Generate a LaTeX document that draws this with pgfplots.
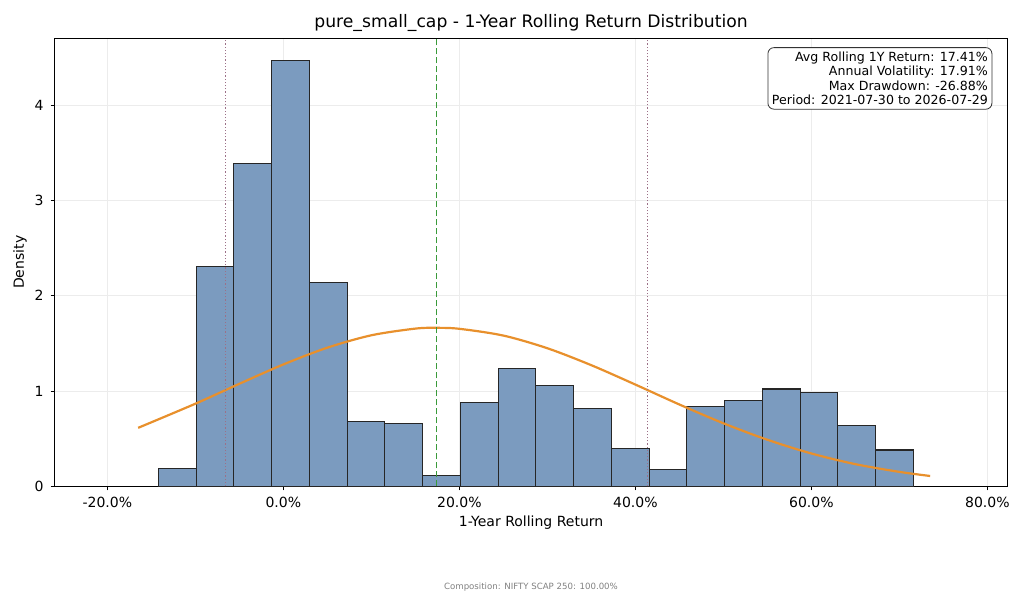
\documentclass[border=0pt]{standalone}
\usepackage{pgfplots}
\pgfplotsset{compat=1.18}
\usepackage{fontspec}
\setmainfont{DejaVu Sans}
\definecolor{barc}{HTML}{7B9BBF}
\definecolor{curvec}{HTML}{E8902C}
\definecolor{meanc}{HTML}{3A9A3A}
\definecolor{sdc}{HTML}{9C7088}
\begin{document}
\begin{tikzpicture}[x=0.5pt,y=0.5pt]
\useasboundingbox (0,0) rectangle (1024,614);
\begin{axis}[at={(62,134)},anchor=south west,scale only axis,
 width=476.5pt,height=224pt,
 xmin=-26,xmax=82.3,ymin=0,ymax=4.70,
 xtick={-20,0,20,40,60,80},
 xticklabels={-20.0\%,0.0\%,20.0\%,40.0\%,60.0\%,80.0\%},
 ytick={0,1,2,3,4},
 /pgf/number format/assume math mode=true,
 tick label style={font=\fontsize{7}{8}\selectfont},
 label style={font=\fontsize{7}{8}\selectfont},
 xlabel={1-Year Rolling Return}, ylabel={Density},
 xlabel style={yshift=3pt}, ylabel style={yshift=-3pt},
 title={pure\_small\_cap - 1-Year Rolling Return Distribution},
 title style={font=\fontsize{8.6}{9}\selectfont,yshift=-6pt},
 grid=major, grid style={gray!15,line width=0.3pt},
 tick align=outside, tick style={black,line width=0.4pt},
 xtick pos=bottom, ytick pos=left, major tick length=2pt,
 axis line style={line width=0.4pt}]
\addplot[ybar interval,fill=barc,draw=black!85,line width=0.55pt] coordinates {
(-14.20,0.19)(-9.91,2.31)(-5.62,3.39)(-1.33,4.47)(2.96,2.14)(7.25,0.68)(11.54,0.66)(15.83,0.11)(20.12,0.88)(24.41,1.24)(28.70,1.06)(32.99,0.82)(37.28,0.40)(41.57,0.18)(45.86,0.84)(50.15,0.90)(54.44,1.02)(58.73,0.98)(63.02,0.64)(67.31,0.38)(71.60,0.38)};
\addplot[curvec,line width=1.1pt,smooth] coordinates {
(-16.5,0.613)(-10,0.866)(-5,1.075)(0,1.278)(5,1.454)(10,1.584)(15,1.654)(17.41,1.662)(20,1.652)(25,1.581)(30,1.448)(35,1.270)(40,1.067)(45,0.858)(50,0.661)(55,0.488)(60,0.344)(65,0.232)(70,0.151)(73.5,0.108)};
\addplot[meanc,dash pattern=on 3pt off 1.5pt,line width=0.7pt] coordinates {(17.41,0)(17.41,4.70)};
\addplot[sdc,dash pattern=on 0.6pt off 1pt,line width=0.7pt] coordinates {(-6.59,0)(-6.59,4.70)};
\addplot[sdc,dash pattern=on 0.6pt off 1pt,line width=0.7pt] coordinates {(41.41,0)(41.41,4.70)};
\node[anchor=north east,draw=black!80,fill=white,rounded corners=3pt,align=right,
 font=\fontsize{6.3}{7.3}\selectfont,inner sep=2pt] at (rel axis cs:0.984,0.98)
 {Avg Rolling 1Y Return: 17.41\%\\Annual Volatility: 17.91\%\\Max Drawdown: -26.88\%\\Period: 2021-07-30 to 2026-07-29};
\end{axis}
\node[font=\fontsize{4.3}{5}\selectfont,text=gray] at (531,27) {Composition: NIFTY SCAP 250: 100.00\%};
\end{tikzpicture}
\end{document}
